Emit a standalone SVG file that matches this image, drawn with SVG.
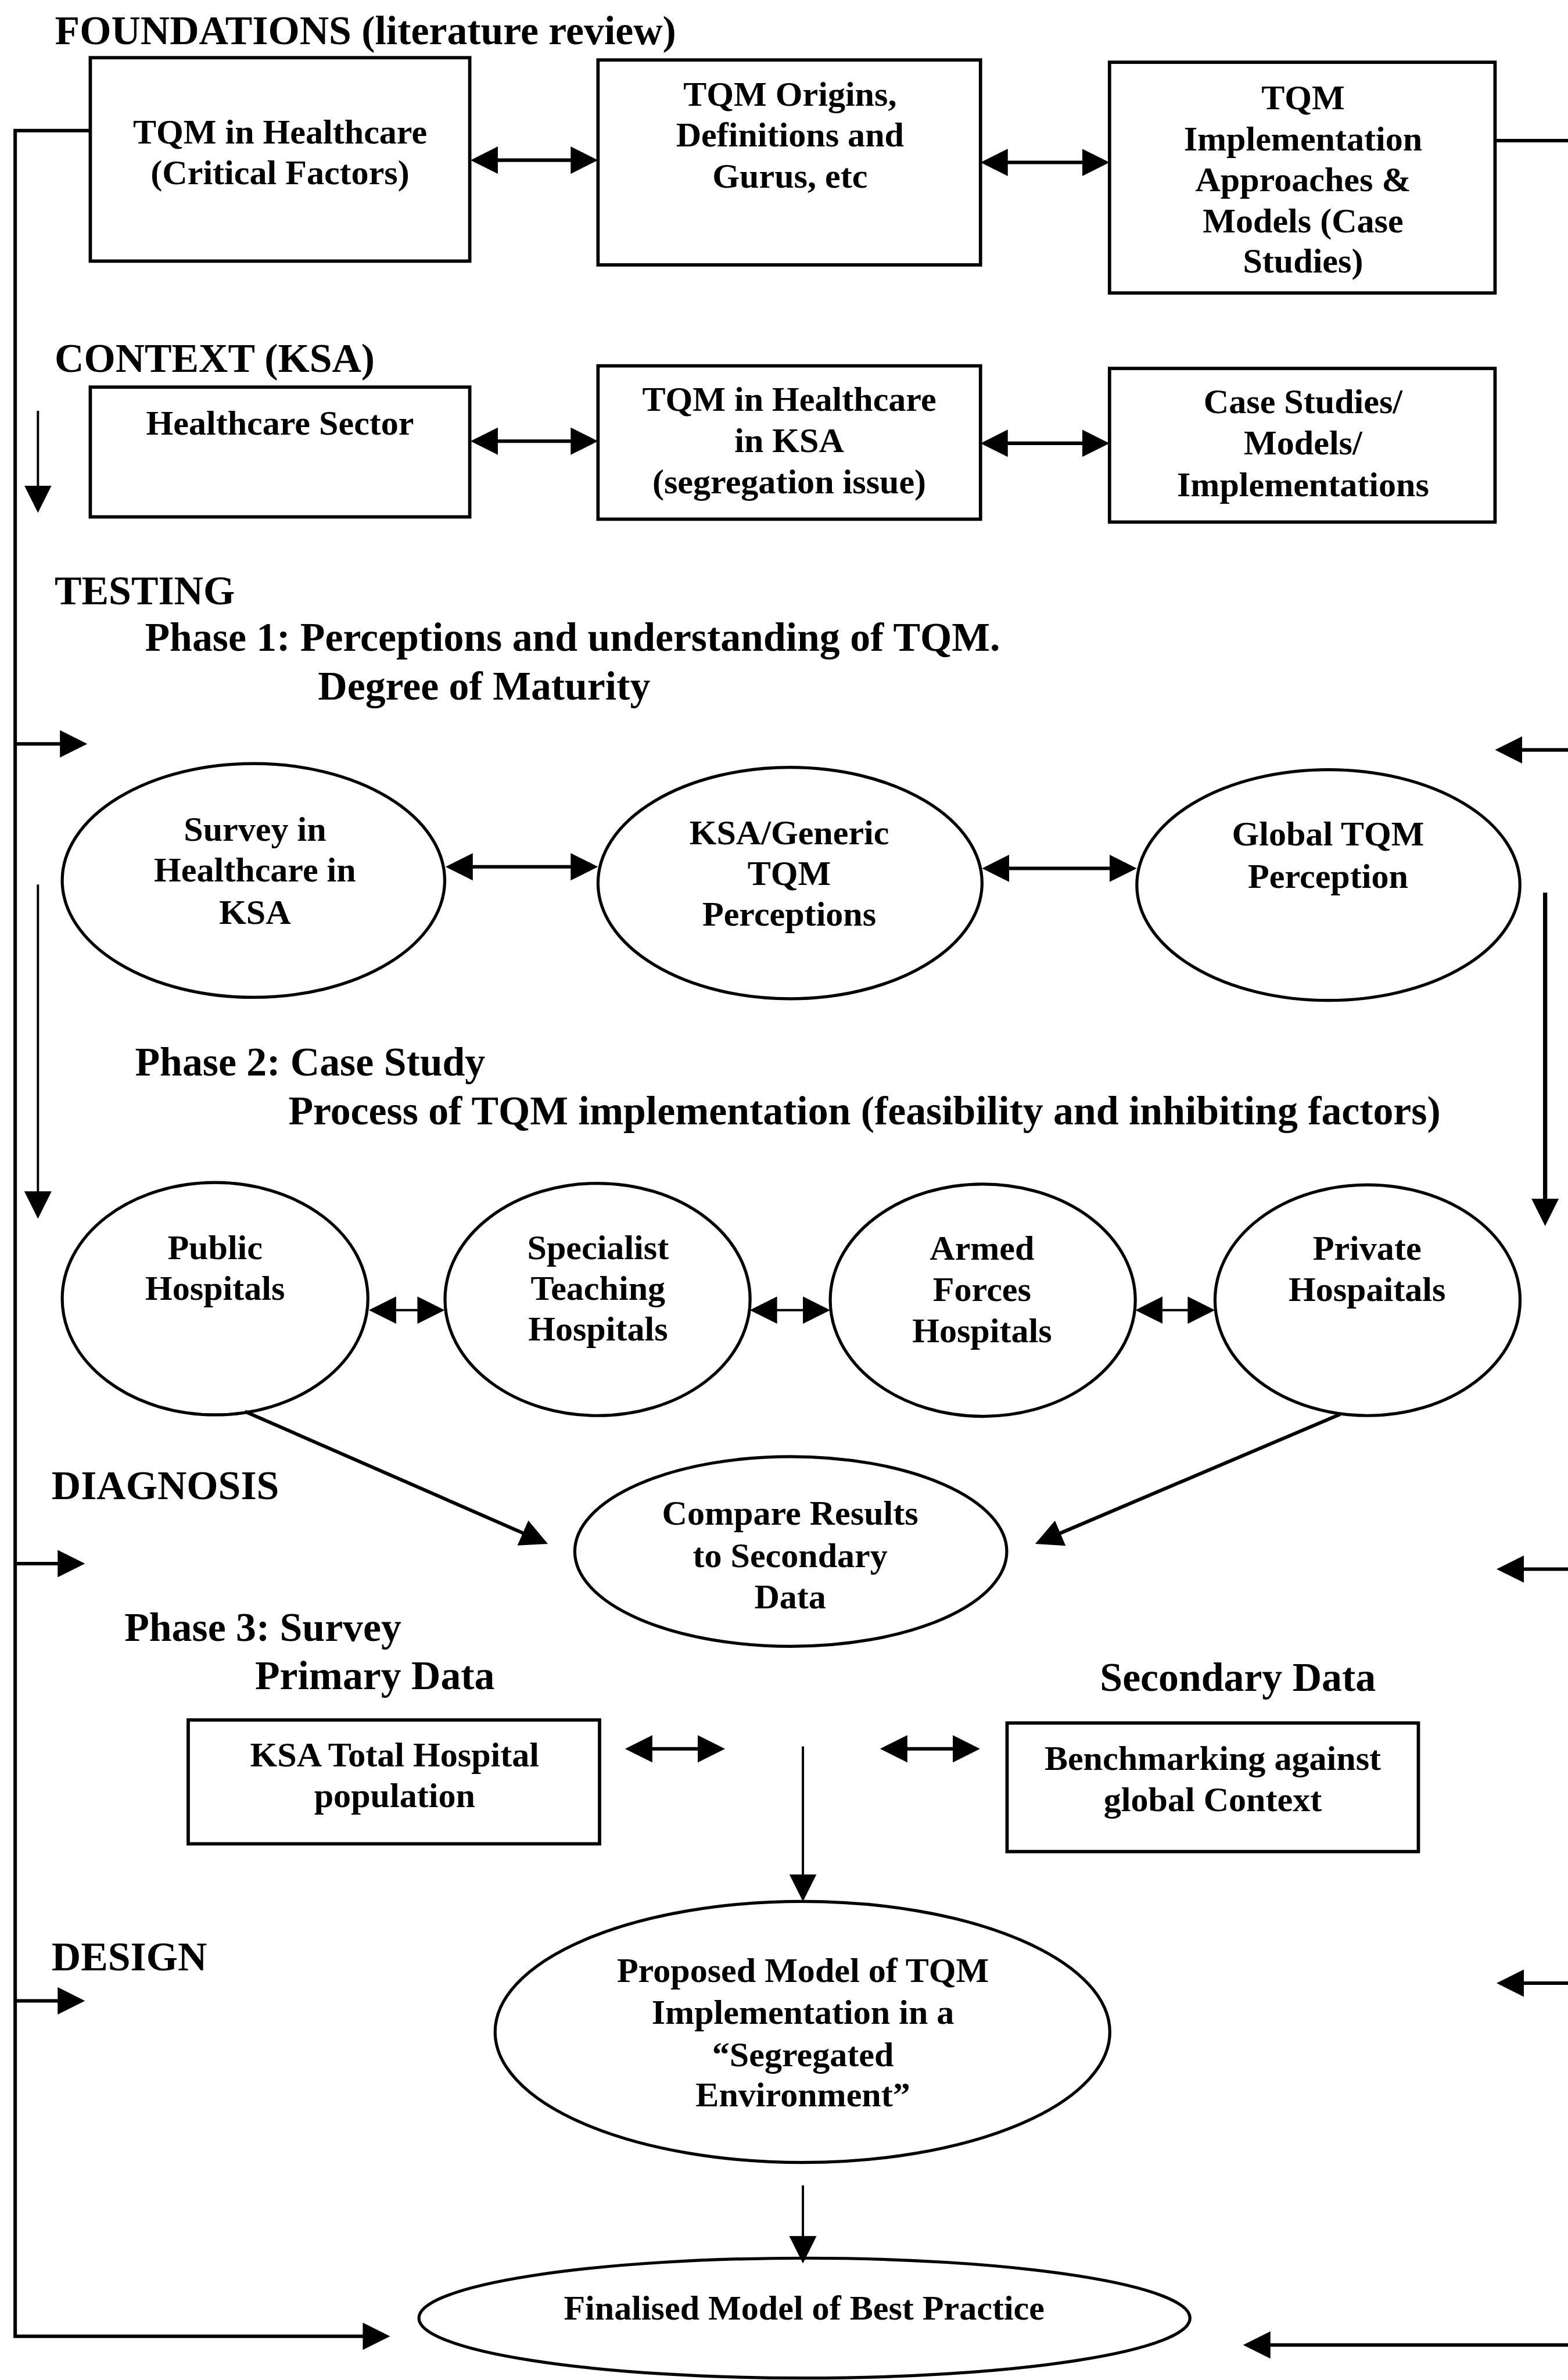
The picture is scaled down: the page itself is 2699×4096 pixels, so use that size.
<svg xmlns="http://www.w3.org/2000/svg" width="2699" height="4096" viewBox="0 0 2699 4096">
<defs>
<style>
.t{font-family:"Liberation Serif","Times New Roman",serif;font-weight:bold;fill:#000}
.n{font-size:23px;text-anchor:middle}
.h{font-size:26.7px}
.box{fill:#fff;stroke:#000;stroke-width:2.2}
.ell{fill:#fff;stroke:#000;stroke-width:2}
.c{fill:none;stroke:#000;stroke-width:2.3}
.thin{stroke-width:1.5}
.thick{stroke-width:2.8}
</style>
<marker id="ah" markerUnits="userSpaceOnUse" markerWidth="20" markerHeight="20" refX="15" refY="9" orient="auto-start-reverse">
<path d="M0,0 L18,9 L0,18 Z" fill="#000"/>
</marker>
</defs>
<rect width="2699" height="4096" fill="#fff"/>
<g transform="scale(2.6126)">
<g id="headings" class="t h">
<text x="36.2" y="29">FOUNDATIONS (literature review)</text>
<text x="36" y="245">CONTEXT (KSA)</text>
<text x="36" y="398">TESTING</text>
<text x="95.5" y="428.6">Phase 1: Perceptions and understanding of TQM.</text>
<text x="209.5" y="461">Degree of Maturity</text>
<text x="89" y="708.4">Phase 2: Case Study</text>
<text x="190" y="740.6">Process of TQM implementation (feasibility and inhibiting factors)</text>
<text x="34" y="987.7">DIAGNOSIS</text>
<text x="82" y="1080.8">Phase 3: Survey</text>
<text x="168" y="1112.6">Primary Data</text>
<text x="724.7" y="1114">Secondary Data</text>
<text x="34" y="1298">DESIGN</text>
</g>
<g id="node-tqm-healthcare">
<rect class="box" x="59.5" y="38" width="250" height="134"/>
<text class="t n" x="184.5" y="94.5">TQM in Healthcare</text>
<text class="t n" x="184.5" y="121.5">(Critical Factors)</text>
</g>
<g id="node-tqm-origins">
<rect class="box" x="394" y="39.5" width="252" height="135"/>
<text class="t n" x="520.5" y="69.8">TQM Origins,</text>
<text class="t n" x="520.5" y="96.6">Definitions and</text>
<text class="t n" x="520.5" y="123.5">Gurus, etc</text>
</g>
<g id="node-tqm-implementation">
<rect class="box" x="731" y="41" width="254" height="152"/>
<text class="t n" x="858.5" y="71.8">TQM</text>
<text class="t n" x="858.5" y="99">Implementation</text>
<text class="t n" x="858.5" y="126">Approaches &amp;</text>
<text class="t n" x="858.5" y="153">Models (Case</text>
<text class="t n" x="858.5" y="179.5">Studies)</text>
</g>
<g id="node-healthcare-sector">
<rect class="box" x="59.5" y="255" width="250" height="85.5"/>
<text class="t n" x="184.5" y="286.4">Healthcare Sector</text>
</g>
<g id="node-tqm-ksa">
<rect class="box" x="394" y="241" width="252" height="101"/>
<text class="t n" x="520" y="270.6">TQM in Healthcare</text>
<text class="t n" x="520" y="297.7">in KSA</text>
<text class="t n" x="520" y="325">(segregation issue)</text>
</g>
<g id="node-case-studies">
<rect class="box" x="731" y="242.7" width="254" height="101.2"/>
<text class="t n" x="858.5" y="272">Case Studies/</text>
<text class="t n" x="858.5" y="299.5">Models/</text>
<text class="t n" x="858.5" y="327">Implementations</text>
</g>
<g id="node-survey">
<ellipse class="ell" cx="167" cy="580" rx="126" ry="77"/>
<text class="t n" x="168" y="553.8">Survey in</text>
<text class="t n" x="168" y="580.6">Healthcare in</text>
<text class="t n" x="168" y="608.5">KSA</text>
</g>
<g id="node-ksa-generic">
<ellipse class="ell" cx="520.5" cy="581.7" rx="126.5" ry="76.2"/>
<text class="t n" x="520" y="556">KSA/Generic</text>
<text class="t n" x="520" y="582.8">TQM</text>
<text class="t n" x="520" y="609.6">Perceptions</text>
</g>
<g id="node-global-tqm">
<ellipse class="ell" cx="875.2" cy="583" rx="126.2" ry="76"/>
<text class="t n" x="875" y="557">Global TQM</text>
<text class="t n" x="875" y="585">Perception</text>
</g>
<g id="node-public">
<ellipse class="ell" cx="141.7" cy="855.5" rx="100.7" ry="76.5"/>
<text class="t n" x="141.7" y="829.5">Public</text>
<text class="t n" x="141.7" y="856.4">Hospitals</text>
</g>
<g id="node-specialist">
<ellipse class="ell" cx="393.7" cy="856" rx="100.5" ry="76.5"/>
<text class="t n" x="394" y="829.5">Specialist</text>
<text class="t n" x="394" y="856.4">Teaching</text>
<text class="t n" x="394" y="883.2">Hospitals</text>
</g>
<g id="node-armed">
<ellipse class="ell" cx="647.5" cy="856.5" rx="100.5" ry="76.5"/>
<text class="t n" x="647" y="830">Armed</text>
<text class="t n" x="647" y="857">Forces</text>
<text class="t n" x="647" y="884">Hospitals</text>
</g>
<g id="node-private">
<ellipse class="ell" cx="901" cy="856.5" rx="100.5" ry="76"/>
<text class="t n" x="900.7" y="830">Private</text>
<text class="t n" x="900.7" y="857">Hospaitals</text>
</g>
<g id="node-compare">
<ellipse class="ell" cx="521" cy="1022" rx="142.3" ry="62.5"/>
<text class="t n" x="520.6" y="1004.2">Compare Results</text>
<text class="t n" x="520.6" y="1032.3">to Secondary</text>
<text class="t n" x="520.6" y="1059.5">Data</text>
</g>
<g id="node-ksa-total">
<rect class="box" x="124" y="1133" width="271" height="81.6"/>
<text class="t n" x="260" y="1163.6">KSA Total Hospital</text>
<text class="t n" x="260" y="1190.5">population</text>
</g>
<g id="node-benchmarking">
<rect class="box" x="663.5" y="1135" width="271" height="84.7"/>
<text class="t n" x="799" y="1166">Benchmarking against</text>
<text class="t n" x="799" y="1193">global Context</text>
</g>
<g id="node-proposed">
<ellipse class="ell" cx="528.7" cy="1338.5" rx="202.5" ry="86" stroke-width="2.3"/>
<text class="t n" x="529" y="1305.7">Proposed Model of TQM</text>
<text class="t n" x="529" y="1333.3">Implementation in a</text>
<text class="t n" x="529" y="1361">“Segregated</text>
<text class="t n" x="529" y="1387.6">Environment”</text>
</g>
<g id="node-finalised">
<ellipse class="ell" cx="530" cy="1527" rx="254" ry="39.5" stroke-width="2.3"/>
<text class="t n" x="529.8" y="1528">Finalised Model of Best Practice</text>
</g>
<g id="connectors" class="c">
<path d="M313,105.5 H391" marker-start="url(#ah)" marker-end="url(#ah)"/>
<path d="M649,107 H728" marker-start="url(#ah)" marker-end="url(#ah)"/>
<path d="M313,290.6 H391" marker-start="url(#ah)" marker-end="url(#ah)"/>
<path d="M649,292 H728" marker-start="url(#ah)" marker-end="url(#ah)"/>
<path d="M296.5,571 H391" marker-start="url(#ah)" marker-end="url(#ah)"/>
<path d="M650,572 H746" marker-start="url(#ah)" marker-end="url(#ah)"/>
<path class="thin" d="M246,863 H290" marker-start="url(#ah)" marker-end="url(#ah)"/>
<path class="thin" d="M497,863 H544" marker-start="url(#ah)" marker-end="url(#ah)"/>
<path class="thin" d="M751,863 H797.5" marker-start="url(#ah)" marker-end="url(#ah)"/>
<path d="M414.8,1152 H474.7" marker-start="url(#ah)" marker-end="url(#ah)"/>
<path d="M582.8,1152 H642.7" marker-start="url(#ah)" marker-end="url(#ah)"/>
<path d="M161.4,929.8 L358.2,1015.8" marker-end="url(#ah)"/>
<path d="M883,931.6 L684.8,1015.8" marker-end="url(#ah)"/>
<path class="thin" d="M529,1150.4 V1249.6" marker-end="url(#ah)"/>
<path class="thin" d="M529,1439.6 V1488" marker-end="url(#ah)"/>
<path d="M59.5,86 H10 V1539 H254" marker-end="url(#ah)"/>
<path d="M10,490 H54.5" marker-end="url(#ah)"/>
<path d="M10,1030 H53" marker-end="url(#ah)"/>
<path d="M10,1318 H53" marker-end="url(#ah)"/>
<path class="thin" d="M25,270.6 V334.8" marker-end="url(#ah)"/>
<path class="thin" d="M25,582.7 V799.8" marker-end="url(#ah)"/>
<path d="M985,92.6 H1040"/>
<path d="M1040,494 H988" marker-end="url(#ah)"/>
<path d="M1040,1033.6 H989" marker-end="url(#ah)"/>
<path d="M1040,1306.4 H989" marker-end="url(#ah)"/>
<path d="M1040,1544.7 H822" marker-end="url(#ah)"/>
<path class="thick" d="M1018,588 V804.6" marker-end="url(#ah)"/>
</g>
</g>
</svg>
